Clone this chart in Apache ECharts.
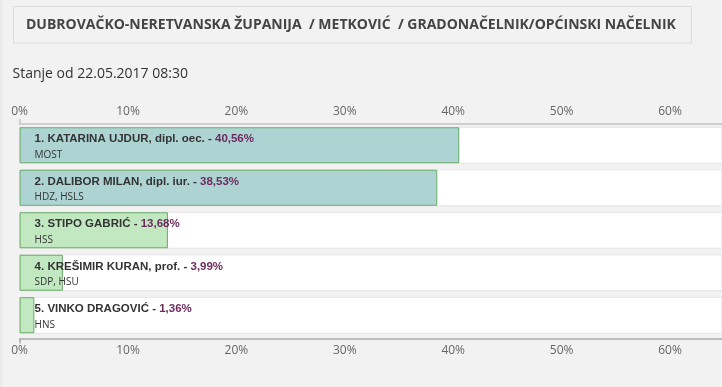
<!DOCTYPE html>
<html><head><meta charset="utf-8">
<script src="https://cdn.jsdelivr.net/npm/echarts@6/dist/echarts.min.js"></script>
<style>html,body{margin:0;padding:0;background:#f2f2f2;}#c{width:722px;height:387px;}</style>
</head><body><div id="c"></div>
<script>
var titleText = 'DUBROVAČKO-NERETVANSKA ŽUPANIJA  / METKOVIĆ  / GRADONAČELNIK/OPĆINSKI NAČELNIK';
var subtitleText = 'Stanje od 22.05.2017 08:30';
var candidates = ['1. KATARINA UJDUR, dipl. oec.', '2. DALIBOR MILAN, dipl. iur.', '3. STIPO GABRIĆ', '4. KREŠIMIR KURAN, prof.', '5. VINKO DRAGOVIĆ'];
var parties = ['MOST', 'HDZ, HSLS', 'HSS', 'SDP, HSU', 'HNS'];
var percents = [40.56, 38.53, 13.68, 3.99, 1.36];
var percentLabels = ['40,56%', '38,53%', '13,68%', '3,99%', '1,36%'];
var tickValues = [0, 10, 20, 30, 40, 50, 60];
var fillColors = ['#add4d3', '#add4d3', '#c1e8c1', '#c1e8c1', '#c1e8c1'];

var chart = echarts.init(document.getElementById('c'));
var axisMax = (722 - 19.6) / 10.84;
function mkAxis(pos, lineColor, lineWidth, offset) {
  return {
    type: 'value', position: pos, min: 0, max: axisMax, interval: 10, offset: offset,
    axisLine: {show: true, lineStyle: {color: lineColor, width: lineWidth}},
    axisTick: {show: true, customValues: [0], length: 5, lineStyle: {color: lineColor, width: lineWidth}},
    axisLabel: {customValues: tickValues, formatter: function (v) { return v + '%'; }, color: '#666', fontFamily: 'Open Sans', fontSize: 12, margin: 6},
    splitLine: {show: false}
  };
}
chart.setOption({
  backgroundColor: '#f2f2f2',
  animation: false,
  graphic: [
    {type: 'rect', shape: {x: 0, y: 0, width: 3, height: 387}, style: {fill: '#ebebeb'}, silent: true},
    {type: 'rect', shape: {x: 13.5, y: 6.5, width: 678, height: 36.5}, style: {fill: 'none', stroke: '#dcdcdc', lineWidth: 1}},
    {type: 'text', x: 26, y: 25, style: {text: titleText, fill: '#444', font: 'bold 14px "Open Sans"', verticalAlign: 'middle'}},
    {type: 'text', x: 12.5, y: 74, style: {text: subtitleText, fill: '#333', font: '14px "Open Sans"', verticalAlign: 'middle'}}
  ],
  grid: {left: 19.6, right: 0, top: 124, height: 212.5, containLabel: false},
  xAxis: [mkAxis('top', '#cfcfcf', 2, 0), mkAxis('bottom', '#acacac', 1.5, 2)],
  yAxis: {type: 'category', inverse: true, data: candidates, show: false},
  series: [{
    type: 'bar', barWidth: 36, xAxisIndex: 0,
    showBackground: true,
    backgroundStyle: {color: '#ffffff', borderColor: '#e4e4e4', borderWidth: 1},
    data: percents.map(function (v, i) {
      return {value: v, itemStyle: {color: fillColors[i]}};
    }),
    itemStyle: {borderColor: '#6aaa6a', borderWidth: 1},
    label: {
      show: true, position: [15, 3.7], align: 'left', verticalAlign: 'top',
      formatter: function (p) {
        var i = p.dataIndex;
        return '{n|' + candidates[i] + ' - }{p|' + percentLabels[i] + '}\n{s|' + parties[i] + '}';
      },
      rich: {
        n: {fontFamily: 'Liberation Sans', fontWeight: 'bold', fontSize: 11.5, color: '#333', lineHeight: 16},
        p: {fontFamily: 'Liberation Sans', fontWeight: 'bold', fontSize: 11.5, color: '#6d2a5f', lineHeight: 16},
        s: {fontFamily: 'Open Sans', fontSize: 10, color: '#333', lineHeight: 16}
      }
    }
  }]
});
</script></body></html>
